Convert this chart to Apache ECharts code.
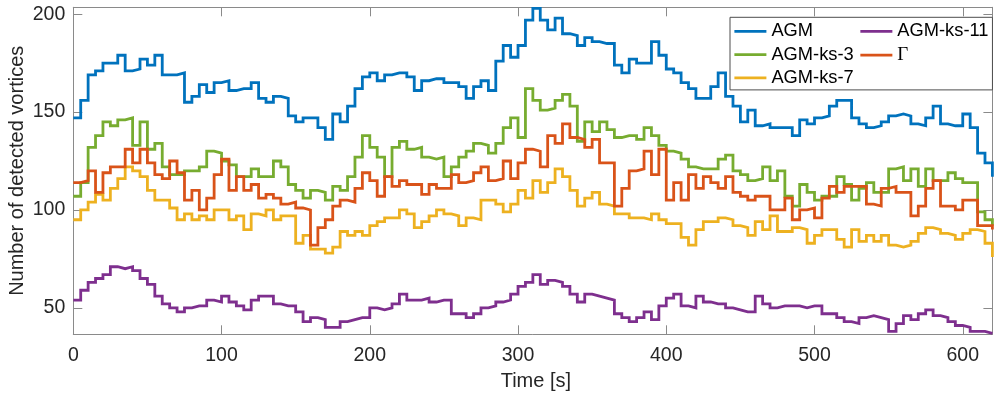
<!DOCTYPE html>
<html>
<head>
<meta charset="utf-8">
<title>Detected vortices over time</title>
<script src="https://cdn.jsdelivr.net/npm/echarts@6/dist/echarts.min.js"></script>
<style>
  html, body { margin: 0; padding: 0; background: #fff; }
  #chart { width: 995px; height: 399px; }
</style>
</head>
<body>
<div id="chart"></div>
<script>
// Sampling interval of the vortex counts, in seconds
const STEP = 5;

// Number of detected vortices per time window (t = 0, 5, 10, ... 620 s)
const agm = [
  147,156,169,171,175,175,179,171,172,177,
  174,179,169,169,170,155,158,164,160,165,
  166,161,162,162,165,157,155,158,157,148,
  145,147,147,142,136,149,145,153,162,168,
  170,166,169,170,170,168,161,166,167,167,
  165,165,163,157,163,166,161,176,184,178,
  184,197,203,197,192,198,190,189,184,188,
  186,185,185,174,170,177,175,175,186,179,
  172,170,165,162,157,157,163,170,158,153,
  145,151,143,144,142,142,142,138,146,144,
  147,148,153,156,156,147,144,142,143,145,
  148,149,148,144,143,147,153,144,143,143,
  149,142,129,124,117
];
const agmKs3 = [
  107,114,132,138,145,143,146,147,133,145,
  131,134,122,118,118,120,120,122,130,129,
  125,123,117,117,121,117,117,125,122,113,
  110,106,110,109,105,112,110,117,127,138,
  132,127,117,132,135,131,132,127,126,127,
  117,122,127,130,134,133,129,134,142,147,
  137,162,156,151,152,156,159,153,135,145,
  140,145,141,137,138,138,136,142,138,133,
  130,129,126,122,121,121,121,126,128,120,
  118,115,116,122,115,120,107,102,113,109,
  105,107,107,117,113,105,111,114,109,109,
  121,122,115,121,112,121,115,115,119,116,
  114,114,99,95,92
];
const agmKs7 = [
  95,100,104,108,105,111,116,122,120,117,
  110,105,105,101,95,98,95,97,95,100,
  100,95,97,90,98,97,100,95,97,97,
  83,87,80,80,78,81,89,87,89,87,
  92,94,96,96,100,98,91,94,97,100,
  98,97,92,96,95,105,105,103,99,103,
  110,106,115,109,114,121,117,110,102,106,
  109,103,102,98,98,96,96,95,98,95,
  93,93,86,82,90,94,94,96,95,92,
  91,87,94,90,97,89,89,91,90,83,
  87,90,90,85,81,90,84,87,84,87,
  82,81,82,84,88,91,90,88,87,85,
  88,90,89,83,76
];
const agmKs11 = [
  54,59,63,65,67,71,70,71,69,65,
  62,56,52,50,48,50,51,51,54,53,
  56,53,51,49,54,56,56,52,51,51,
  48,43,45,44,40,40,43,44,45,45,
  50,49,50,52,57,54,54,55,53,54,
  54,47,47,45,47,50,51,53,54,57,
  61,63,67,62,64,63,61,57,53,57,
  56,55,54,47,45,43,45,48,44,51,
  55,57,51,50,56,53,52,52,50,49,
  48,48,56,52,50,51,51,51,50,51,
  51,47,47,45,43,42,45,46,45,44,
  38,42,46,44,47,49,46,45,43,41,
  40,38,38,37,37
];
const gamma = [
  114,115,120,109,119,122,122,131,124,131,
  124,118,116,125,119,105,110,100,106,118,
  126,110,117,110,113,106,108,106,103,104,
  101,100,82,91,95,102,105,104,111,119,
  115,107,117,112,115,113,113,108,113,111,
  111,118,114,115,119,122,115,116,125,116,
  124,131,130,122,138,134,144,137,136,132,
  136,124,124,102,111,120,121,130,118,131,
  105,114,105,118,111,117,114,111,117,109,
  107,105,107,107,100,100,106,95,100,101,
  96,106,112,109,112,112,112,103,102,111,
  112,109,109,97,102,111,115,102,102,100,
  105,105,92,92,90
];

// Axis limits and ticks
const xMin = 0, xMax = 620, xTickStep = 100;
const yMin = 36.5, yMax = 203.5;
const yTicks = [50, 100, 150, 200];

const seriesDefs = [
  { name: 'AGM',       values: agm,     color: '#0072BD' },
  { name: 'AGM-ks-3',  values: agmKs3,  color: '#77AC30' },
  { name: 'AGM-ks-7',  values: agmKs7,  color: '#EDB120' },
  { name: 'AGM-ks-11', values: agmKs11, color: '#7E2F8E' },
  { name: 'Γ',         values: gamma,   color: '#D95319' }
];

const times = agm.map((_, i) => i * STEP);

const axisGray = '#8a8a8a';
const textDark = '#262626';
const sansFont = 'Liberation Sans, Arial, Helvetica, sans-serif';

const chart = echarts.init(document.getElementById('chart'), null, { renderer: 'canvas' });

const boxAxisX = {
  type: 'value', min: xMin, max: xMax, interval: xTickStep,
  axisLine: { show: true, onZero: false, lineStyle: { color: axisGray, width: 1 } },
  axisTick: { show: true, inside: true, length: 9, lineStyle: { color: axisGray, width: 1 } },
  splitLine: { show: false }
};
const boxAxisY = {
  type: 'value', min: yMin, max: yMax,
  axisLine: { show: true, onZero: false, lineStyle: { color: axisGray, width: 1 } },
  axisTick: { show: true, inside: true, length: 9, customValues: yTicks, lineStyle: { color: axisGray, width: 1 } },
  splitLine: { show: false }
};

chart.setOption({
  animation: false,
  backgroundColor: '#ffffff',
  grid: { left: 73.3, right: 2.6, top: 7.3, bottom: 64.7, containLabel: false, outerBoundsMode: 'none' },
  xAxis: [
    Object.assign({}, boxAxisX, {
      position: 'bottom',
      name: 'Time [s]',
      nameLocation: 'middle',
      nameGap: 37,
      nameMoveOverlap: false,
      nameTextStyle: { fontFamily: sansFont, fontSize: 20, color: textDark, padding: [0, 0, 0, 6] },
      axisLabel: { show: true, margin: 11, fontFamily: sansFont, fontSize: 19.5, color: textDark }
    }),
    Object.assign({}, boxAxisX, { position: 'top', axisLabel: { show: false } })
  ],
  yAxis: [
    Object.assign({}, boxAxisY, {
      position: 'left',
      name: 'Number of detected vortices',
      nameLocation: 'middle',
      nameGap: 46,
      nameMoveOverlap: false,
      nameTextStyle: { fontFamily: sansFont, fontSize: 20, color: textDark },
      axisLabel: { show: true, margin: 8, customValues: yTicks, fontFamily: sansFont, fontSize: 19.5, color: textDark }
    }),
    Object.assign({}, boxAxisY, { position: 'right', axisLabel: { show: false } })
  ],
  legend: {
    orient: 'vertical',
    left: 730,
    top: 17.3,
    height: 70,
    itemWidth: 32,
    itemHeight: 18,
    itemGap: 5.3,
    padding: [5, 4, 3, 3],
    backgroundColor: '#ffffff',
    borderColor: '#4d4d4d',
    borderWidth: 1,
    borderRadius: 0,
    // plain line keys: hide the marker that line series add to the key
    itemStyle: { color: 'rgba(0,0,0,0)', borderWidth: 0, opacity: 0 },
    lineStyle: { width: 2.8 },
    textStyle: { fontFamily: sansFont, fontSize: 18.3, lineHeight: 18, color: '#000' },
    data: seriesDefs.map(s => s.name === 'Γ'
      ? { name: s.name, textStyle: { fontFamily: 'Liberation Serif, DejaVu Serif, serif', fontSize: 19 } }
      : { name: s.name })
  },
  series: seriesDefs.map(s => ({
    name: s.name,
    type: 'line',
    step: 'end',
    xAxisIndex: 0,
    yAxisIndex: 0,
    symbol: 'none',
    showSymbol: false,
    clip: true,
    color: s.color,
    lineStyle: { color: s.color, width: 2.8, join: 'miter', cap: 'butt' },
    data: times.map((t, i) => [t, s.values[i]])
  }))
});
</script>
</body>
</html>
